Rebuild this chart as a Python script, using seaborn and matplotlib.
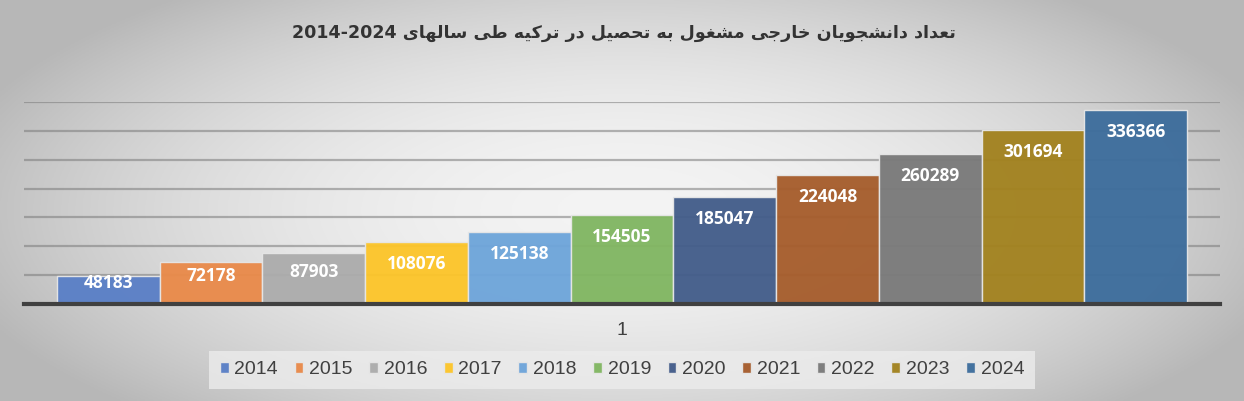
import numpy as np
import pandas as pd
import matplotlib
matplotlib.use("Agg")
import matplotlib.pyplot as plt
import seaborn as sns

# ---------------- data ----------------
years = ["2014", "2015", "2016", "2017", "2018", "2019", "2020", "2021", "2022", "2023", "2024"]
students = [48183, 72178, 87903, 108076, 125138, 154505, 185047, 224048, 260289, 301694, 336366]
category = ["1"] * len(years)
colors = ["#5a7fc6", "#e98a4a", "#acacac", "#fcc52a", "#6ea5da", "#81b662",
          "#435d8a", "#a65d2c", "#7a7a7a", "#a2821f", "#3d6d9c"]
title_fa = "تعداد دانشجویان خارجی مشغول به تحصیل در ترکیه طی سالهای"
title_num = "2014-2024"
y_max = 350000
y_step = 50000

# ------------- minimal Persian shaping (presentation forms, visual order) -------------
FORMS = {
    'ا': ('\uFE8D', '\uFE8E', None, None),
    'ب': ('\uFE8F', '\uFE90', '\uFE91', '\uFE92'),
    'ت': ('\uFE95', '\uFE96', '\uFE97', '\uFE98'),
    'ج': ('\uFE9D', '\uFE9E', '\uFE9F', '\uFEA0'),
    'ح': ('\uFEA1', '\uFEA2', '\uFEA3', '\uFEA4'),
    'خ': ('\uFEA5', '\uFEA6', '\uFEA7', '\uFEA8'),
    'د': ('\uFEA9', '\uFEAA', None, None),
    'ر': ('\uFEAD', '\uFEAE', None, None),
    'س': ('\uFEB1', '\uFEB2', '\uFEB3', '\uFEB4'),
    'ش': ('\uFEB5', '\uFEB6', '\uFEB7', '\uFEB8'),
    'ص': ('\uFEB9', '\uFEBA', '\uFEBB', '\uFEBC'),
    'ط': ('\uFEC1', '\uFEC2', '\uFEC3', '\uFEC4'),
    'ع': ('\uFEC9', '\uFECA', '\uFECB', '\uFECC'),
    'غ': ('\uFECD', '\uFECE', '\uFECF', '\uFED0'),
    'ک': ('\uFED9', '\uFEDA', '\uFEDB', '\uFEDC'),
    'ل': ('\uFEDD', '\uFEDE', '\uFEDF', '\uFEE0'),
    'م': ('\uFEE1', '\uFEE2', '\uFEE3', '\uFEE4'),
    'ن': ('\uFEE5', '\uFEE6', '\uFEE7', '\uFEE8'),
    'ه': ('\uFEE9', '\uFEEA', '\uFEEB', '\uFEEC'),
    'و': ('\uFEED', '\uFEEE', None, None),
    'ی': ('\uFEEF', '\uFEF0', '\uFEF3', '\uFEF4'),
}


def shape_fa(s):
    s = s.replace('\u064A', '\u06CC').replace('\u0649', '\u06CC').replace('\u0643', '\u06A9')
    out = []
    for i, c in enumerate(s):
        if c not in FORMS:
            out.append(c)
            continue
        prev = s[i - 1] if i > 0 else ''
        nxt = s[i + 1] if i + 1 < len(s) else ''
        jp = prev in FORMS and FORMS[prev][2] is not None
        jn = nxt in FORMS and FORMS[c][2] is not None
        iso, fin, ini, med = FORMS[c]
        if jp and jn:
            out.append(med)
        elif jp:
            out.append(fin)
        elif jn:
            out.append(ini)
        else:
            out.append(iso)
    return ''.join(reversed(out))


# ---------------- figure ----------------
sns.set_theme(style="white")
plt.rcParams['font.family'] = ['Liberation Sans', 'DejaVu Sans']

W, H = 1244, 401
fig = plt.figure(figsize=(W / 100, H / 100), dpi=100)

# radial gradient background
bg = fig.add_axes([0, 0, 1, 1], zorder=-10)
xx, yy = np.meshgrid(np.linspace(-1, 1, 600), np.linspace(-1, 1, 200))
r = np.sqrt((xx / 1.0) ** 2 + ((yy + 0.05) / 1.25) ** 2)
val = 0.955 - 0.19 * np.clip(r, 0, 1.6) ** 2
val = np.clip(val, 0.72, 1)
bg.imshow(np.dstack([val, val, val]), aspect='auto', extent=[0, 1, 0, 1], origin='lower')
bg.set_axis_off()

df = pd.DataFrame({"cat": category, "year": years, "value": students})

ax = fig.add_axes([24 / W, (H - 304) / H, (1220 - 24) / W, (304 - 102) / H])
ax.set_facecolor('none')
sns.barplot(data=df, x="cat", y="value", hue="year", hue_order=years,
            palette=colors, saturation=1, width=0.945, dodge=True, ax=ax,
            edgecolor="#e6e6e6", linewidth=1.0, alpha=0.96, zorder=3)

ax.set_xlim(-0.5, 0.5)
ax.set_ylim(0, y_max)
ax.set_yticks(np.arange(0, y_max + 1, y_step))
ax.yaxis.grid(True, color="#7a7a7a", alpha=0.55, linewidth=1.6, zorder=0)
ax.set_axisbelow(True)
ax.tick_params(axis='y', left=False, labelleft=False)
ax.tick_params(axis='x', length=0, pad=13, labelsize=14, labelcolor="#404040")
for lab in ax.get_xticklabels():
    lab.set_fontfamily(['Liberation Sans Narrow', 'Liberation Sans'])
ax.set_xlabel("")
ax.set_ylabel("")
for sp in ["top", "right", "left"]:
    ax.spines[sp].set_visible(False)
ax.spines["bottom"].set_color("#404040")
ax.spines["bottom"].set_linewidth(3)
ax.spines["bottom"].set_zorder(5)

# value labels inside bar tops
px_per_unit = (304 - 102) / y_max
for cont, v in zip(ax.containers, students):
    for p in cont.patches:
        h_px = p.get_height() * px_per_unit
        off_px = min(22.0, h_px / 2 - 7)
        ax.annotate(f"{int(round(p.get_height()))}",
                    (p.get_x() + p.get_width() / 2, p.get_height()),
                    xytext=(0, -off_px * 0.72), textcoords="offset points",
                    ha="center", va="center", color="white",
                    fontsize=12.5, fontweight="bold", family=['Open Sans', 'DejaVu Sans'],
                    zorder=6)

# legend
handles, labels = ax.get_legend_handles_labels()
if ax.get_legend() is not None:
    ax.get_legend().remove()
leg = fig.legend(handles, labels, loc="center", bbox_to_anchor=(622 / W, 1 - 370 / H),
                 ncol=len(years), frameon=True, fontsize=14,
                 handlelength=0.45, handleheight=0.45, handletextpad=0.3,
                 columnspacing=0.85, borderpad=0.55, fancybox=False)
leg.get_frame().set_facecolor("#ececec")
leg.get_frame().set_edgecolor("none")
leg.get_frame().set_alpha(0.8)
for t in leg.get_texts():
    t.set_color("#404040")

# title
title_text = title_num + " " + shape_fa(title_fa)
fig.text(624 / W, 1 - 33 / H, title_text, ha="center", va="center",
         fontsize=12.6, fontweight="bold", color="#333333",
         family=['DejaVu Sans'])

fig.savefig("out.png", dpi=100)
